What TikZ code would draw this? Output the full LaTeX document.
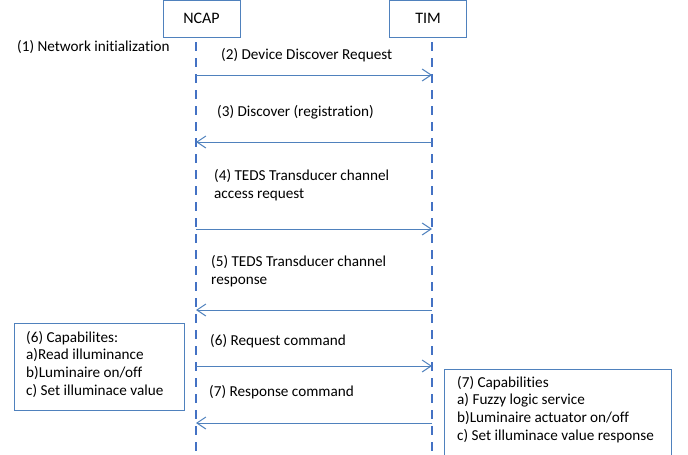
\documentclass[tikz,border=0pt]{standalone}
\usepackage{fontspec}
\setmainfont{Carlito}[Ligatures={NoCommon}]
\usetikzlibrary{arrows.meta}
\definecolor{lifeblue}{RGB}{68,114,196}
\definecolor{boxblue}{RGB}{79,129,189}
\begin{document}
\begin{tikzpicture}[x=1pt,y=-1pt,
  font=\fontsize{15.2}{18.5}\selectfont,
  actor/.style={draw=boxblue,line width=1pt,minimum width=77pt,minimum height=37pt,inner sep=0pt,font=\fontsize{16}{19}\selectfont},
  life/.style={draw=lifeblue,line width=2.2pt,dash pattern=on 9pt off 7pt},
  msg/.style={draw=boxblue,line width=1pt,-{Straight Barb[length=9pt,width=12pt,line width=1pt]}},
  lbl/.style={anchor=west,inner sep=0pt,align=left},
  note/.style={draw=boxblue,line width=1pt,anchor=north west,inner sep=0pt}]
\useasboundingbox (0,0) rectangle (688,455);
\node[actor] (ncap) at (201.5,18.5) {NCAP};
\node[actor] (tim) at (428,18.5) {TIM};
\coordinate (ntop) at (196,42);
\coordinate (nbot) at (196,455);
\coordinate (ttop) at (432,42);
\coordinate (tbot) at (432,455);
\draw[life] (ntop) -- (nbot);
\draw[life] (ttop) -- (tbot);
\foreach \i/\y in {2/75,3/142,4/229,5/310,6/366,7/423}{
  \coordinate (n\i) at (196,\y);
  \coordinate (t\i) at (432,\y);
}
\draw[msg] (n2) -- (t2);
\draw[msg] (t3) -- (n3);
\draw[msg] (n4) -- (t4);
\draw[msg] (t5) -- (n5);
\draw[msg] (n6) -- (t6);
\draw[msg] (t7) -- (n7);
\node[lbl] (l1) at (17,47) {(1) Network initialization};
\node[lbl] (l2) at (221,55) {(2) Device Discover Request};
\node[lbl] (l3) at (217,112) {(3) Discover (registration)};
\node[lbl,anchor=north west] (l4) at (214,169) {(4) TEDS Transducer channel\\access request};
\node[lbl,anchor=north west] (l5) at (211,255) {(5) TEDS Transducer channel\\response};
\node[lbl] (l6) at (210,341) {(6) Request command};
\node[lbl] (l7) at (209,392) {(7) Response command};
\node[note,minimum width=170pt,minimum height=87pt] (cap6) at (14,323) {};
\node[lbl,anchor=north west,font=\fontsize{15.2}{17.6}\selectfont] (cap6t) at (26,331) {(6) Capabilites:\\a)Read illuminance\\b)Luminaire on/off\\c) Set illuminace value};
\node[note,minimum width=227pt,minimum height=95pt] (cap7) at (444,369) {};
\node[lbl,anchor=north west,font=\fontsize{15.2}{17.6}\selectfont] (cap7t) at (457,376) {(7) Capabilities\\a) Fuzzy logic service\\b)Luminaire actuator on/off\\c) Set illuminace value response};
\end{tikzpicture}
\end{document}
